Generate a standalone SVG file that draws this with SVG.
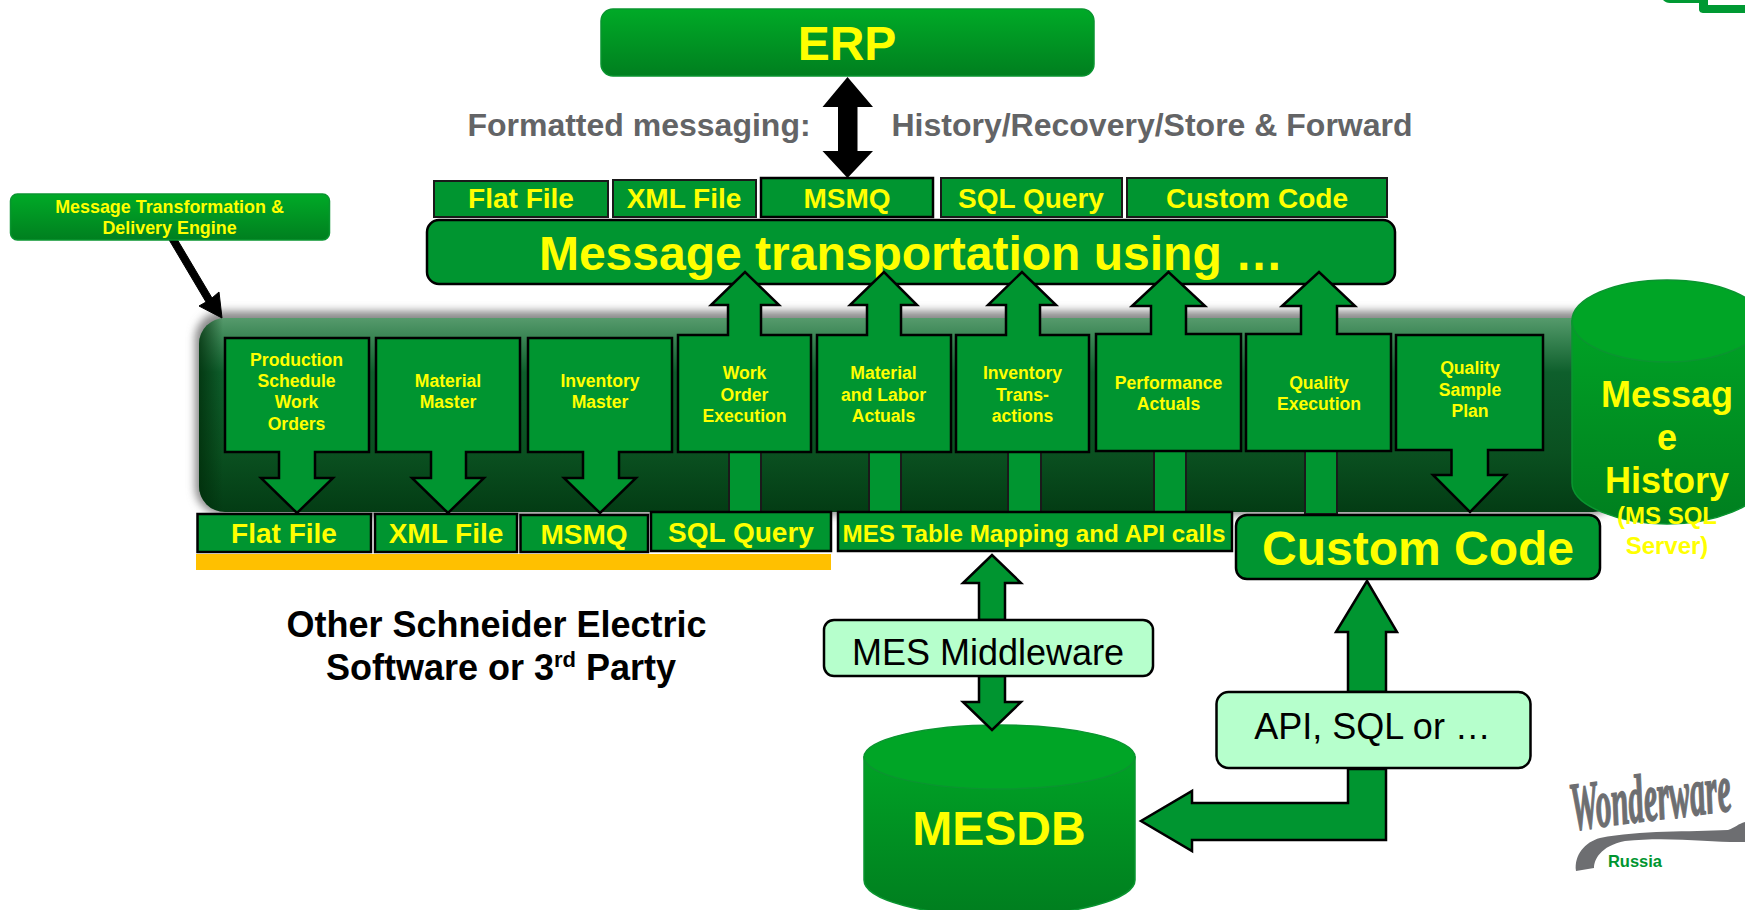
<svg xmlns="http://www.w3.org/2000/svg" width="1745" height="910" viewBox="0 0 1745 910">
<style>
text{font-family:"Liberation Sans",Arial,sans-serif;font-weight:700;fill:#ffff00;text-anchor:middle}
.box{fill:#009530;stroke:#000;stroke-width:2.5;stroke-linejoin:miter}
.thin{fill:#009530;stroke:#1a1a1a;stroke-width:2}
.light{fill:#b6ffcc;stroke:#000;stroke-width:2.5}
.t28{font-size:28px}.t18{font-size:17.6px}
.grey{fill:#636466;font-size:32px}
.blk{fill:#000;font-weight:400;font-size:36px}
</style>
<defs>
<linearGradient id="gv" x1="0" y1="0" x2="0" y2="1"><stop offset="0" stop-color="#00aa27"/><stop offset="1" stop-color="#007f1f"/></linearGradient>
<linearGradient id="gc" gradientUnits="userSpaceOnUse" x1="0" y1="279" x2="0" y2="523"><stop offset="0" stop-color="#00aa27"/><stop offset="1" stop-color="#007f1f"/></linearGradient>
<linearGradient id="gd" gradientUnits="userSpaceOnUse" x1="0" y1="724" x2="0" y2="910"><stop offset="0" stop-color="#00aa27"/><stop offset="1" stop-color="#007f1f"/></linearGradient>
<linearGradient id="gp" x1="0" y1="0" x2="0" y2="1"><stop offset="0" stop-color="#569a6c"/><stop offset="0.1" stop-color="#3a8554"/><stop offset="0.28" stop-color="#0e5f2c"/><stop offset="0.7" stop-color="#0a5020"/><stop offset="1" stop-color="#033c14"/></linearGradient>
<linearGradient id="ge" x1="0" y1="0" x2="1" y2="0"><stop offset="0" stop-color="#002c0a" stop-opacity=".75"/><stop offset="1" stop-color="#002c0a" stop-opacity="0"/></linearGradient>
<filter id="bl" x="-5%" y="-20%" width="110%" height="140%"><feGaussianBlur stdDeviation="4"/></filter>
<clipPath id="pc"><rect x="199" y="318" width="1420" height="194" rx="26"/></clipPath>
</defs>

<g id="panel">
<rect x="195" y="311" width="1424" height="204" rx="28" fill="#8a8a8a" filter="url(#bl)"/>
<rect x="199" y="318" width="1420" height="194" rx="26" fill="url(#gp)"/>
<rect x="199" y="318" width="24" height="194" fill="url(#ge)" clip-path="url(#pc)"/>
</g>

<g id="connectors">
<path d="M168 238L206 302L199 306L222 318L219 292L212 298L174 234Z" fill="#000" stroke="#000" stroke-width="1"/>
<path d="M847.500 77L873 107H857.500V151H873L847.500 178L822.500 151H838V107H822.500Z" fill="#000"/>
<g class="thin">
<rect x="729" y="452" width="32" height="60"/>
<rect x="869" y="452" width="32" height="60"/>
<rect x="1008" y="452" width="33" height="60"/>
<rect x="1154" y="451" width="32" height="61"/>
<rect x="1305" y="451" width="32" height="63"/>
</g>
</g>

<g id="orange-bar"><rect x="196" y="554" width="635" height="16" fill="#ffc000"/></g>

<g id="erp"><rect x="601" y="9" width="493" height="67" rx="12" fill="url(#gv)" stroke="#0a9530" stroke-width="1.5"/><text x="847" y="60" font-size="48px">ERP</text></g>
<g id="label-formatted"><text class="grey" x="639" y="136">Formatted messaging:</text></g>
<g id="label-history"><text class="grey" x="1152" y="136">History/Recovery/Store &amp; Forward</text></g>

<g id="top-flat"><rect class="thin" x="434" y="181" width="174" height="36"/><text class="t28" x="521" y="208">Flat File</text></g>
<g id="top-xml"><rect class="thin" x="613" y="180" width="143" height="37"/><text class="t28" x="684" y="208">XML File</text></g>
<g id="top-msmq"><rect class="box" x="761" y="178" width="172" height="39"/><text class="t28" x="847" y="208">MSMQ</text></g>
<g id="top-sql"><rect class="thin" x="941" y="178" width="181" height="39"/><text class="t28" x="1031" y="208">SQL Query</text></g>
<g id="top-custom"><rect class="thin" x="1127" y="178" width="260" height="39"/><text class="t28" x="1257" y="208">Custom Code</text></g>
<g id="transport"><rect class="box" x="427" y="220" width="968" height="64" rx="12"/><text x="911" y="270" font-size="48px">Message transportation using …</text></g>

<g id="engine"><rect x="10.500" y="194" width="319" height="46" rx="7" fill="url(#gv)" stroke="#0a9530" stroke-width="1.500"/><text x="169.500" y="213" font-size="17.900px">Message Transformation &amp;</text><text x="169.500" y="234" font-size="17.900px">Delivery Engine</text></g>

<g id="n-production"><path class="box" d="M225 338H369V452H315V478H333L297 513L261 478H279V452H225Z"/><text class="t18" x="296.500" y="366">Production</text><text class="t18" x="296.500" y="387">Schedule</text><text class="t18" x="296.500" y="408">Work</text><text class="t18" x="296.500" y="430">Orders</text></g>
<g id="n-material"><path class="box" d="M376 338H520V452H466V478H484L448 513L412 478H431V452H376Z"/><text class="t18" x="448" y="387">Material</text><text class="t18" x="448" y="408">Master</text></g>
<g id="n-inventory"><path class="box" d="M528 338H672V452H619V478H636L600 513L564 478H583V452H528Z"/><text class="t18" x="600" y="386.500">Inventory</text><text class="t18" x="600" y="408">Master</text></g>
<g id="n-work"><path class="box" d="M678 335H728V305H711L745 272L779 305H761V335H811V452H678Z"/><text class="t18" x="744.500" y="379">Work</text><text class="t18" x="744.500" y="401">Order</text><text class="t18" x="744.500" y="422">Execution</text></g>
<g id="n-labor"><path class="box" d="M817 335H867V305H850L884 272L917 305H901V335H951V452H817Z"/><text class="t18" x="883.500" y="379">Material</text><text class="t18" x="883.500" y="401">and Labor</text><text class="t18" x="883.500" y="422">Actuals</text></g>
<g id="n-trans"><path class="box" d="M956 335H1006V305H988L1022 272L1056 305H1040V335H1089V452H956Z"/><text class="t18" x="1022.500" y="379">Inventory</text><text class="t18" x="1022.500" y="401">Trans-</text><text class="t18" x="1022.500" y="422">actions</text></g>
<g id="n-perf"><path class="box" d="M1096 334H1151V306H1132L1168.500 272L1205 306H1186V334H1241V451H1096Z"/><text class="t18" x="1168.500" y="389">Performance</text><text class="t18" x="1168.500" y="410">Actuals</text></g>
<g id="n-quality"><path class="box" d="M1246 334H1301V306H1282L1319 272L1355 306H1337V334H1391V451H1246Z"/><text class="t18" x="1319" y="389">Quality</text><text class="t18" x="1319" y="410">Execution</text></g>

<g id="history-db">
<path d="M1572 321V483C1572 506 1620 524 1667 524C1714 524 1762 506 1762 483V321Z" fill="url(#gc)" stroke="#0a9530" stroke-width="1.500"/>
<ellipse cx="1667" cy="321" rx="95" ry="41" fill="#00a526" stroke="#0a9530" stroke-width="1.500"/>
</g>
<g id="n-sample"><path class="box" d="M1396 335H1543V450H1488V475H1506L1470 512L1433 475H1451.500V450H1396Z"/><text class="t18" x="1470" y="374">Quality</text><text class="t18" x="1470" y="396">Sample</text><text class="t18" x="1470" y="417">Plan</text></g>

<g id="bot-flat"><rect class="box" x="197.500" y="514" width="173.500" height="38"/><text class="t28" x="284" y="543">Flat File</text></g>
<g id="bot-xml"><rect class="box" x="375" y="514" width="142" height="38"/><text class="t28" x="446" y="543">XML File</text></g>
<g id="bot-msmq"><rect class="box" x="520.500" y="515" width="127.500" height="37"/><text class="t28" x="584" y="544">MSMQ</text></g>
<g id="bot-sql"><rect class="box" x="651" y="512" width="180" height="39"/><text class="t28" x="741" y="542">SQL Query</text></g>
<g id="bot-mes"><rect class="box" x="838" y="512" width="394" height="39"/><text x="1034" y="542" font-size="24.200px">MES Table Mapping and API calls</text></g>
<g id="bot-custom"><rect class="box" x="1236" y="515" width="364" height="64" rx="11"/><text x="1418" y="565" font-size="48px">Custom Code</text></g>
<g id="history-label"><text x="1667" y="407" font-size="36px">Messag</text><text x="1667" y="450" font-size="36px">e</text><text x="1667" y="493" font-size="36px">History</text><text x="1667" y="524" font-size="24px">(MS SQL</text><text x="1667" y="554" font-size="24px">Server)</text></g>

<g id="other-software"><text x="496.500" y="637" font-size="36px" style="fill:#000">Other Schneider Electric</text><text x="501" y="680" font-size="36px" style="fill:#000">Software or 3<tspan font-size="22px" dy="-13">rd</tspan><tspan dy="13"> Party</tspan></text></g>

<g id="mesdb">
<path d="M864 757V880C864 900 925 916 999 916C1073 916 1135 900 1135 880V757Z" fill="url(#gd)" stroke="#0a9530" stroke-width="1.500"/>
<ellipse cx="999.500" cy="757" rx="135.500" ry="32" fill="#00a526" stroke="#0a9530" stroke-width="1.500"/>
<text x="999" y="845" font-size="48px">MESDB</text>
</g>

<g id="connectors-lower">
<path class="box" d="M979 620V583H963L992 555L1021 583H1005V620Z"/>
<path class="box" d="M979 676V702H963L992 730L1021 702H1005V676Z"/>
<path class="box" d="M1348 692V632H1336L1367 581L1397 632H1386V692Z"/>
<path class="box" d="M1348 769V803H1192V791L1141 821L1192 851V840H1386V769Z"/>
</g>
<g id="middleware"><rect class="light" x="824" y="620" width="329" height="56" rx="10"/><text class="blk" x="988" y="665">MES Middleware</text></g>
<g id="api"><rect class="light" x="1216.500" y="692" width="314" height="76" rx="12"/><text class="blk" x="1372.500" y="739">API, SQL or …</text></g>

<g id="logo">
<text transform="translate(1573 830) rotate(-7) scale(1 2.2)" font-size="31px" style="fill:#6d6e71;stroke:#6d6e71;stroke-width:.7;text-anchor:start;font-family:'Liberation Serif',serif;font-weight:700;font-style:italic">Wonderware</text>
<path d="M1745 842C1715 843 1670 836 1625 841C1600 846 1594 860 1594 868L1576 871C1574 855 1585 842 1600 838C1640 830 1690 832 1728 830C1736 827 1738 824 1745 822Z" fill="#6d6e71"/>
<text x="1635" y="867" font-size="16.500px" style="fill:#009530">Russia</text>
</g>
<g id="corner-mark"><path d="M1663 0C1665 2 1667 3 1670 3H1699V9C1699 12 1701 13 1704 13H1745V5H1708V0Z" fill="#009933"/></g>
</svg>
